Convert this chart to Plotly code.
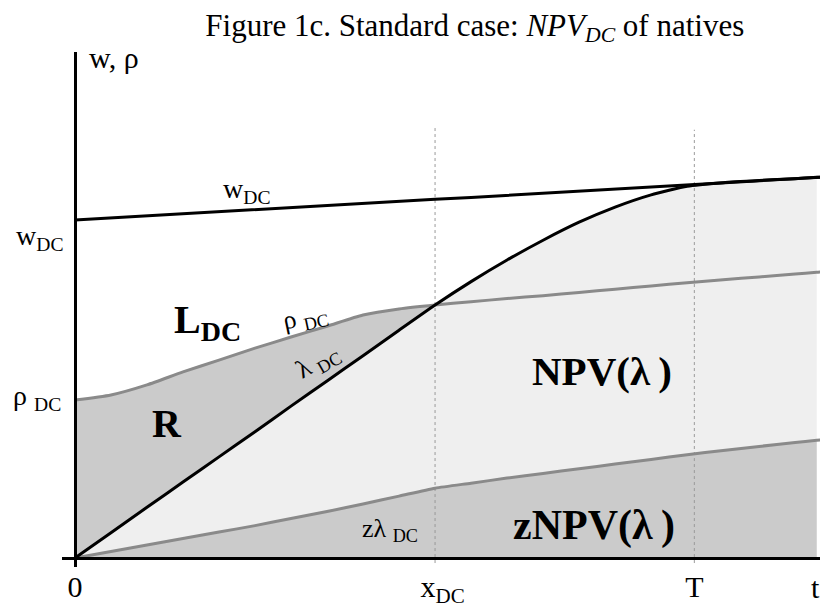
import plotly.graph_objects as go

# ---------------- data ----------------
t_vals = [0, 1, 2, 3, 4, 5, 6, 7, 8, 9, 10, 11, 12, 13, 14, 15, 16, 17, 18, 19, 20, 20.6, 20.7]
w_vals = [9.39, 9.45, 9.50, 9.56, 9.62, 9.68, 9.74, 9.79, 9.85, 9.91, 9.97, 10.02,
          10.08, 10.14, 10.20, 10.25, 10.31, 10.37, 10.43, 10.49, 10.54, 10.58, 10.58]
rho_vals = [4.39, 4.53, 4.81, 5.17, 5.50, 5.83, 6.14, 6.44, 6.75, 6.92, 7.03, 7.12,
            7.21, 7.29, 7.38, 7.47, 7.56, 7.65, 7.73, 7.81, 7.89, 7.94, 7.95]
lam_vals = [0.00, 0.70, 1.41, 2.11, 2.81, 3.51, 4.22, 4.92, 5.62, 6.33, 7.03, 7.68,
            8.28, 8.83, 9.33, 9.75, 10.09, 10.33, 10.43, 10.49, 10.54, 10.58, 10.58]
zlam_vals = [0.00, 0.18, 0.36, 0.54, 0.72, 0.90, 1.10, 1.29, 1.50, 1.72, 1.94, 2.08,
             2.22, 2.35, 2.48, 2.61, 2.74, 2.87, 2.99, 3.10, 3.21, 3.27, 3.28]

x_dc = 10.0
T_val = 17.2
t_axis_label_pos = 20.56
x_tick_vals = [0, x_dc, T_val]
x_tick_text = ["0", "\u00a0\u00a0x<sub>DC</sub>", "T"]

# ---------------- style ----------------
DARK = "#cbcbcb"
LIGHT = "#efefef"
GRAY_LINE = "#8a8a8a"
FONT = "Liberation Serif"
x_range = [-0.36, 20.69]
y_range = [-0.25, 14.06]
guide_top = {x_dc: 12.03, T_val: 11.9}
guide_bottom = -0.14

n_r = t_vals.index(x_dc) + 1  # points up to x_DC
t_fill = t_vals[:-1]

fig = go.Figure()

# zNPV region (under z*lambda)
fig.add_trace(go.Scatter(x=t_fill, y=zlam_vals[:-1], mode="lines",
                         line=dict(width=0, shape="spline", smoothing=0.6),
                         fill="tozeroy", fillcolor=DARK, hoverinfo="skip"))
# NPV region (between z*lambda and lambda)
fig.add_trace(go.Scatter(x=t_fill, y=lam_vals[:-1], mode="lines",
                         line=dict(width=0, shape="spline", smoothing=0.5),
                         fill="tonexty", fillcolor=LIGHT, hoverinfo="skip"))
# R region (between lambda and rho up to x_DC)
fig.add_trace(go.Scatter(x=t_vals[:n_r] + t_vals[:n_r][::-1],
                         y=rho_vals[:n_r] + lam_vals[:n_r][::-1],
                         mode="lines", line=dict(width=0), fill="toself",
                         fillcolor=DARK, hoverinfo="skip"))

# dotted guides
for gx in (x_dc, T_val):
    fig.add_trace(go.Scatter(x=[gx, gx], y=[guide_bottom, guide_top[gx]], mode="lines",
                             line=dict(color="#9a9a9a", width=1, dash="dot"),
                             hoverinfo="skip"))

# curves
fig.add_trace(go.Scatter(x=t_vals, y=zlam_vals, mode="lines",
                         line=dict(color=GRAY_LINE, width=3, shape="spline", smoothing=0.6)))
fig.add_trace(go.Scatter(x=t_vals, y=rho_vals, mode="lines",
                         line=dict(color=GRAY_LINE, width=3, shape="spline", smoothing=0.6)))
fig.add_trace(go.Scatter(x=t_vals, y=w_vals, mode="lines",
                         line=dict(color="black", width=3)))
fig.add_trace(go.Scatter(x=t_vals, y=lam_vals, mode="lines",
                         line=dict(color="black", width=3, shape="spline", smoothing=0.5)))

def ann(text, x, y, size, bold=False, angle=0, **kw):
    if bold:
        text = "<b>" + text + "</b>"
    d = dict(text=text, x=x, y=y, xref="x", yref="y", showarrow=False,
             font=dict(family=FONT, size=size, color="black"), textangle=angle,
             xanchor="center", yanchor="middle")
    d.update(kw)
    fig.add_annotation(**d)

ann("w<sub>DC</sub>", 4.75, 10.2, 28)
ann("L<sub>DC</sub>", 3.67, 6.56, 40, bold=True)
ann("\u03c1 <sub>DC</sub>", 6.39, 6.67, 26, angle=-12)
ann("\u03bb <sub>DC</sub>", 6.75, 5.44, 26, angle=-30)
ann("R", 2.56, 3.75, 40, bold=True)
ann("NPV(\u03bb\u2009)", 14.64, 5.2, 41, bold=True)
ann("zNPV(\u03bb\u2009)", 14.42, 0.89, 42, bold=True)
ann("z\u03bb <sub>DC</sub>", 8.75, 0.78, 26)
# axis-side labels
ann("w, \u03c1", 0.33, 13.92, 30, xanchor="left")
ann("t", t_axis_label_pos, 0, 30, yanchor="top", yshift=-11)
fig.add_annotation(text="w<sub>DC</sub>", x=0, y=w_vals[0], xref="x", yref="y",
                   xanchor="right", yanchor="middle", xshift=-10, yshift=-17,
                   showarrow=False, font=dict(family=FONT, size=28, color="black"))
fig.add_annotation(text="\u03c1 <sub>DC</sub>", x=0, y=rho_vals[0], xref="x", yref="y",
                   xanchor="right", yanchor="middle", xshift=-12, yshift=3,
                   showarrow=False, font=dict(family=FONT, size=28, color="black"))

xpos = (0 - y_range[0]) / (y_range[1] - y_range[0])
ypos = (0 - x_range[0]) / (x_range[1] - x_range[0])

fig.update_layout(
    width=820, height=610,
    margin=dict(l=62, r=0, t=52, b=43, autoexpand=False),
    paper_bgcolor="white", plot_bgcolor="white",
    showlegend=False,
    title=dict(text="Figure 1c. Standard case: <i>NPV<sub>DC</sub></i> of natives",
               x=0.579, xanchor="center", y=1 - 25 / 610, yanchor="middle",
               font=dict(family=FONT, size=31, color="black")),
    xaxis=dict(range=x_range, showgrid=False, zeroline=False, showline=True,
               linecolor="black", linewidth=3, anchor="free", position=xpos,
               layer="above traces", tickmode="array", tickvals=x_tick_vals,
               ticktext=x_tick_text, ticks="", ticklabelstandoff=1,
               tickfont=dict(family=FONT, size=30, color="black"), fixedrange=True),
    yaxis=dict(range=y_range, showgrid=False, zeroline=False, showline=True,
               linecolor="black", linewidth=3, anchor="free", position=ypos,
               layer="above traces", showticklabels=False, ticks="", fixedrange=True),
)

fig.write_html("out.html", config={"displayModeBar": False},
               post_script="document.body.style.margin='0px';document.body.style.overflow='hidden';")
